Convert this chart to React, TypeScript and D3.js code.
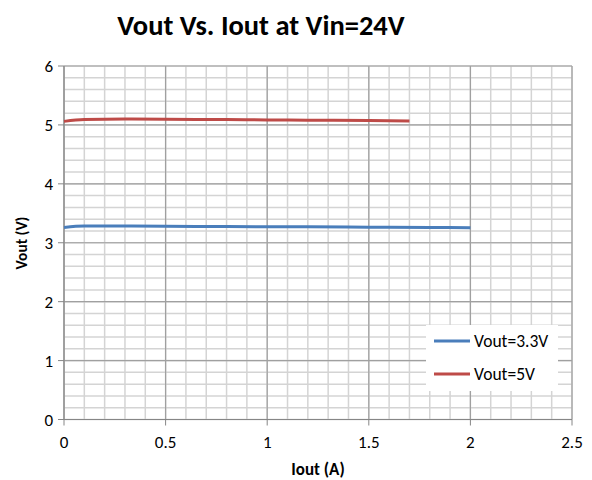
import React from "react";
import * as d3 from "d3";

const iout33 = [0, 0.1, 0.3, 0.5, 0.8, 1.0, 1.2, 1.5, 1.8, 2.0];
const vout33 = [3.26, 3.285, 3.285, 3.28, 3.275, 3.27, 3.27, 3.265, 3.26, 3.255];
const iout5 = [0, 0.1, 0.3, 0.5, 0.8, 1.0, 1.2, 1.5, 1.7];
const vout5 = [5.06, 5.09, 5.1, 5.095, 5.09, 5.085, 5.08, 5.075, 5.065];
const xTicks = [0, 0.5, 1, 1.5, 2, 2.5];
const yTicks = [0, 1, 2, 3, 4, 5, 6];
const seriesNames = ["Vout=3.3V", "Vout=5V"];
const colors = ["#4a7ebb", "#be4b48"];

const W = 592, H = 480;
const left = 64, right = 572, top = 66, bottom = 419.5;
const font = "Carlito, Lato, 'Open Sans', sans-serif";

export default function App() {
  const x = d3.scaleLinear().domain([0, 2.5]).range([left, right]);
  const y = d3.scaleLinear().domain([0, 6]).range([bottom, top]);
  const minorX = d3.range(0, 26).map((i) => i / 10);
  const minorY = d3.range(0, 31).map((i) => i / 5);
  const line = d3
    .line<[number, number]>()
    .x((d) => x(d[0]))
    .y((d) => y(d[1]))
    .curve(d3.curveMonotoneX);
  const s33 = iout33.map((v, i) => [v, vout33[i]] as [number, number]);
  const s5 = iout5.map((v, i) => [v, vout5[i]] as [number, number]);

  return (
    <svg width={W} height={H} style={{ position: "absolute", left: 0, top: 0, background: "#fff" }} fontFamily={font}>
      <rect x={0} y={0} width={W} height={H} fill="#fff" />
      <text x={261} y={35} textAnchor="middle" fontSize={28.5} fontWeight="bold" fill="#000">
        Vout Vs. Iout at Vin=24V
      </text>
      {minorX.map((v) => (
        <line key={"mx" + v} x1={x(v)} x2={x(v)} y1={top} y2={bottom} stroke="#d4d4d4" strokeWidth={1.5} />
      ))}
      {minorY.map((v) => (
        <line key={"my" + v} x1={left} x2={right} y1={y(v)} y2={y(v)} stroke="#d4d4d4" strokeWidth={1.5} />
      ))}
      {xTicks.map((v) => (
        <line key={"Mx" + v} x1={x(v)} x2={x(v)} y1={top} y2={bottom} stroke="#a0a0a0" strokeWidth={1.2} />
      ))}
      {yTicks.map((v) => (
        <line key={"My" + v} x1={left} x2={right} y1={y(v)} y2={y(v)} stroke="#a0a0a0" strokeWidth={1.2} />
      ))}
      <line x1={left} x2={left} y1={top} y2={bottom} stroke="#868686" strokeWidth={1} />
      <line x1={left} x2={right} y1={bottom} y2={bottom} stroke="#868686" strokeWidth={1} />
      {yTicks.map((v) => (
        <g key={"yt" + v}>
          <line x1={left - 6} x2={left} y1={y(v)} y2={y(v)} stroke="#868686" />
          <text x={left - 11} y={y(v) + 6} textAnchor="end" fontSize={17} fill="#000">
            {v}
          </text>
        </g>
      ))}
      {xTicks.map((v) => (
        <g key={"xt" + v}>
          <line x1={x(v)} x2={x(v)} y1={bottom} y2={bottom + 6} stroke="#868686" />
          <text x={x(v)} y={448} textAnchor="middle" fontSize={17} fill="#000">
            {v}
          </text>
        </g>
      ))}
      <text x={318} y={475} textAnchor="middle" fontSize={17} fontWeight="bold" fill="#000">
        Iout (A)
      </text>
      <text transform="translate(27,243) rotate(-90)" textAnchor="middle" fontSize={15.5} fontWeight="bold" fill="#000">
        Vout (V)
      </text>
      <path d={line(s33) || ""} fill="none" stroke={colors[0]} strokeWidth={3} />
      <path d={line(s5) || ""} fill="none" stroke={colors[1]} strokeWidth={3} />
      <rect x={426} y={325} width={132} height={66} fill="#fff" />
      {seriesNames.map((n, i) => (
        <g key={n}>
          <line x1={434} x2={470} y1={341 + i * 33} y2={341 + i * 33} stroke={colors[i]} strokeWidth={3} />
          <text x={474} y={347 + i * 33} fontSize={17.5} fill="#000">
            {n}
          </text>
        </g>
      ))}
    </svg>
  );
}
